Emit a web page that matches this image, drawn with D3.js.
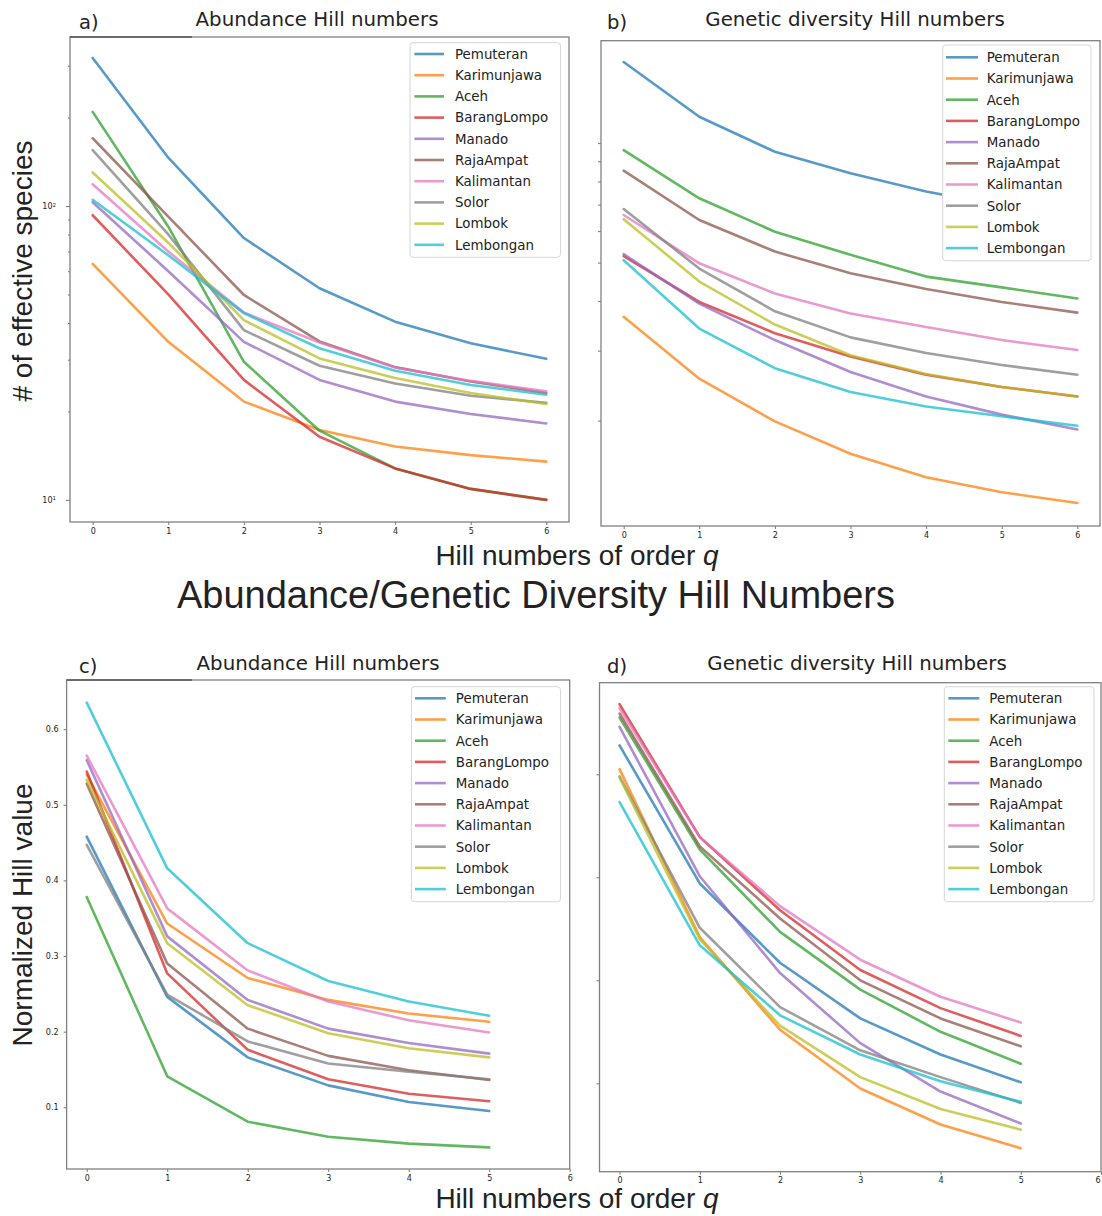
<!DOCTYPE html>
<html>
<head>
<meta charset="utf-8">
<script src="https://cdn.jsdelivr.net/npm/d3@7"></script>
<style>
  body { margin: 0; background: #fff; }
  svg text { fill: #222; }
</style>
</head>
<body>
<svg id="fig" width="1102" height="1216"></svg>
<script>
// ---- data -------------------------------------------------------------
const sites = ["Pemuteran", "Karimunjawa", "Aceh", "BarangLompo", "Manado",
               "RajaAmpat", "Kalimantan", "Solor", "Lombok", "Lembongan"];
const siteColors = ["#1f77b4", "#ff7f0e", "#2ca02c", "#d62728", "#9467bd",
                    "#8c564b", "#e377c2", "#7f7f7f", "#bcbd22", "#17becf"];

const ordersFull = [0, 1, 2, 3, 4, 5, 6];
const ordersShort = [0, 1, 2, 3, 4, 5];
const xTickLabels = ["0", "1", "2", "3", "4", "5", "6"];

// a) effective number of species, abundance-based (rows follow `sites`)
const abundanceHill = [
  [319, 146, 77.8, 52.5, 40.4, 34.1, 30.2],
  [63.5, 34.5, 21.6, 17.3, 15.2, 14.2, 13.5],
  [209, 85, 29.5, 17.2, 12.8, 10.9, 10.0],
  [93, 50, 25.6, 16.4, 12.8, 10.9, 10.0],
  [103, 60, 34.5, 25.6, 21.6, 19.6, 18.2],
  [170, 92, 49.8, 34.6, 28.3, 25.3, 23.1],
  [118.5, 70, 43.4, 34.3, 28.2, 25.4, 23.4],
  [155, 80, 37.8, 28.6, 24.9, 22.6, 21.4],
  [130, 75, 40.9, 30.3, 26.0, 23.1, 21.2],
  [105, 68, 43.2, 32.8, 27.5, 24.6, 22.8]
];

// b) effective numbers, genetic-diversity-based
const geneticHill = [
  [160, 116.5, 95.1, 83.9, 75.5, 69.5, 65.0],
  [36.5, 25.5, 19.9, 16.5, 14.4, 13.2, 12.4],
  [96, 72.6, 59.8, 52.3, 46.1, 43.3, 40.6],
  [51.9, 39.8, 33.2, 29.0, 26.1, 24.3, 23.0],
  [52.5, 39.4, 31.9, 26.5, 23.0, 20.7, 19.0],
  [85.2, 64, 53.3, 47.0, 42.9, 39.8, 37.4],
  [65.9, 49.8, 41.8, 37.2, 34.4, 31.9, 30.1],
  [68.2, 48.3, 37.7, 32.4, 29.6, 27.6, 26.1],
  [64.3, 44.8, 34.9, 29.2, 26.2, 24.3, 23.0],
  [50.7, 34.1, 27.1, 23.6, 21.7, 20.5, 19.4]
];

// c) normalized abundance Hill values
const abundanceNorm = [
  [0.458, 0.246, 0.166, 0.129, 0.107, 0.095],
  [0.540, 0.343, 0.271, 0.242, 0.224, 0.213],
  [0.378, 0.141, 0.081, 0.061, 0.052, 0.047],
  [0.544, 0.277, 0.176, 0.137, 0.118, 0.108],
  [0.559, 0.326, 0.242, 0.204, 0.185, 0.171],
  [0.528, 0.290, 0.204, 0.168, 0.149, 0.136],
  [0.565, 0.363, 0.281, 0.240, 0.215, 0.199],
  [0.447, 0.249, 0.187, 0.158, 0.147, 0.137],
  [0.533, 0.317, 0.235, 0.198, 0.178, 0.166],
  [0.635, 0.416, 0.317, 0.267, 0.240, 0.221]
];

// d) normalized genetic-diversity Hill values
const geneticNorm = [
  [0.628, 0.494, 0.417, 0.363, 0.328, 0.301],
  [0.605, 0.442, 0.352, 0.295, 0.260, 0.237],
  [0.655, 0.527, 0.447, 0.391, 0.350, 0.319],
  [0.668, 0.539, 0.468, 0.410, 0.373, 0.346],
  [0.646, 0.501, 0.407, 0.339, 0.292, 0.261],
  [0.659, 0.530, 0.460, 0.400, 0.363, 0.336],
  [0.664, 0.539, 0.472, 0.420, 0.384, 0.359],
  [0.598, 0.451, 0.374, 0.332, 0.306, 0.281],
  [0.597, 0.440, 0.356, 0.306, 0.275, 0.255],
  [0.573, 0.434, 0.366, 0.328, 0.302, 0.282]
];

const logMajorTicks = [10, 100];
const logMinorTicksA = [20, 30, 40, 50, 60, 70, 80, 90, 200, 300];
const logTicksB = [20, 30, 40, 50, 60, 70, 80, 90, 100];
const normTicksC = [0.1, 0.2, 0.3, 0.4, 0.5, 0.6];
const normTicksD = [0.3, 0.4, 0.5, 0.6];

// ---- layout -----------------------------------------------------------
const svg = d3.select("#fig");
const DEJAVU = "'DejaVu Sans', sans-serif";
const ARIAL = "'Liberation Sans', Arial, sans-serif";

const panels = [
  { id: "a", tag: "a)", title: "Abundance Hill numbers", data: abundanceHill, orders: ordersFull,
    box: { l: 70, r: 569, t: 37, b: 522 }, xDomain: [-0.3, 6.3], log: true, yDomain: [8.41, 375.8],
    tagX: 79, tagY: 29, titleX: 317, titleY: 26,
    legend: { x: 410, y: 42.7, w: 150.5, h: 214.6, hx: 414.4, hl: 29.6, tx: 455, row0: 54 } },
  { id: "b", tag: "b)", title: "Genetic diversity Hill numbers", data: geneticHill, orders: ordersFull,
    box: { l: 601, r: 1100, t: 40.7, b: 526 }, xDomain: [-0.3, 6.3], log: true, yDomain: [10.85, 181.1],
    tagX: 607, tagY: 29, titleX: 855, titleY: 26,
    legend: { x: 942.7, y: 45, w: 148.3, h: 215.7, hx: 946, hl: 32, tx: 986.7, row0: 57.3 } },
  { id: "c", tag: "c)", title: "Abundance Hill numbers", data: abundanceNorm, orders: ordersShort,
    box: { l: 66.6, r: 569.7, t: 680, b: 1169 }, xDomain: [-0.25, 6], log: false, yDomain: [0.0184, 0.665],
    tagX: 79, tagY: 673, titleX: 318, titleY: 670,
    legend: { x: 411.4, y: 686.7, w: 149.1, h: 215, hx: 415, hl: 30.8, tx: 455.8, row0: 698.3 } },
  { id: "d", tag: "d)", title: "Genetic diversity Hill numbers", data: geneticNorm, orders: ordersShort,
    box: { l: 599.5, r: 1101, t: 682.7, b: 1171.7 }, xDomain: [-0.25, 6], log: false, yDomain: [0.2142, 0.6889],
    tagX: 607, tagY: 673, titleX: 857, titleY: 670,
    legend: { x: 944.3, y: 686.7, w: 149.7, h: 215, hx: 948.3, hl: 31, tx: 989.3, row0: 698.3 } }
];

function addText(parent, x, y, str, opts) {
  const o = Object.assign({ size: 12, family: DEJAVU, anchor: "start" }, opts);
  return parent.append("text")
    .attr("x", x).attr("y", y)
    .attr("text-anchor", o.anchor)
    .style("font-family", o.family)
    .style("font-size", o.size + "px")
    .text(str);
}

function styleAxis(g) {
  g.select(".domain").remove();
  g.selectAll(".tick line").attr("stroke", "#555").attr("stroke-width", 0.8);
  g.selectAll(".tick text")
    .style("font-family", DEJAVU).style("font-size", "8px").attr("fill", "#444");
}

panels.forEach(p => {
  const g = svg.append("g").attr("class", "panel-" + p.id);
  const { l, r, t, b } = p.box;

  const x = d3.scaleLinear().domain(p.xDomain).range([l, r]);
  const y = (p.log ? d3.scaleLog() : d3.scaleLinear()).domain(p.yDomain).range([b, t]);

  // clip region for the series
  g.append("clipPath").attr("id", "clip-" + p.id)
    .append("rect").attr("x", l).attr("y", t).attr("width", r - l).attr("height", b - t);

  // series lines
  const line = d3.line().x((d, i) => x(p.orders[i])).y(d => y(d));
  g.append("g").attr("clip-path", `url(#clip-${p.id})`)
    .selectAll("path").data(p.data).join("path")
    .attr("d", d => line(d))
    .attr("fill", "none")
    .attr("stroke", (d, i) => siteColors[i])
    .attr("stroke-width", 2.6)
    .attr("stroke-opacity", 0.75)
    .attr("stroke-linejoin", "round")
    .attr("stroke-linecap", "round");

  // x axis
  const xAxis = g.append("g").attr("transform", `translate(0,${b})`)
    .call(d3.axisBottom(x).tickValues(ordersFull).tickSize(3).tickPadding(3)
      .tickFormat(d => xTickLabels[d]));
  styleAxis(xAxis);
  // keep the last label inside the page when the axis ends at the right border
  if (x(6) > 1095) xAxis.selectAll(".tick text").filter(d => d === 6)
    .attr("text-anchor", "end").attr("dx", "-1");

  // y axis
  if (p.id === "a") {
    const yMinor = g.append("g").attr("transform", `translate(${l},0)`)
      .call(d3.axisLeft(y).tickValues(logMinorTicksA).tickSize(2).tickFormat(() => ""));
    styleAxis(yMinor);
    const yMajor = g.append("g").attr("transform", `translate(${l},0)`)
      .call(d3.axisLeft(y).tickValues(logMajorTicks).tickSize(4).tickPadding(10).tickFormat(() => ""));
    styleAxis(yMajor);
    yMajor.selectAll(".tick text").each(function (d) {
      const s = d3.select(this).attr("dy", "0.32em");
      s.append("tspan").text("10");
      s.append("tspan").attr("dy", "-0.45em").style("font-size", "5.5px").text(String(Math.round(Math.log10(d))));
    });
  } else if (p.id === "b") {
    const yAx = g.append("g").attr("transform", `translate(${l},0)`)
      .call(d3.axisLeft(y).tickValues(logTicksB).tickSize(3).tickFormat(() => ""));
    styleAxis(yAx);
  } else if (p.id === "c") {
    const yAx = g.append("g").attr("transform", `translate(${l},0)`)
      .call(d3.axisLeft(y).tickValues(normTicksC).tickSize(3).tickPadding(5).tickFormat(d3.format(".1f")));
    styleAxis(yAx);
  } else {
    const yAx = g.append("g").attr("transform", `translate(${l},0)`)
      .call(d3.axisLeft(y).tickValues(normTicksD).tickSize(3).tickFormat(() => ""));
    styleAxis(yAx);
  }

  // frame
  g.append("rect").attr("x", l).attr("y", t).attr("width", r - l).attr("height", b - t)
    .attr("fill", "none").attr("stroke", "#808080").attr("stroke-width", 1.3);
  if (p.id === "a" || p.id === "c") {
    g.append("line").attr("x1", l).attr("x2", 192).attr("y1", t).attr("y2", t)
      .attr("stroke", "#555").attr("stroke-width", 1.5);
  }

  // legend
  const L = p.legend;
  const lg = g.append("g");
  lg.append("rect").attr("x", L.x).attr("y", L.y).attr("width", L.w).attr("height", L.h)
    .attr("rx", 3).attr("fill", "#fff").attr("fill-opacity", 1)
    .attr("stroke", "#d6d6d6").attr("stroke-width", 1);
  sites.forEach((name, i) => {
    const ry = L.row0 + i * 21.2;
    lg.append("line").attr("x1", L.hx).attr("x2", L.hx + L.hl).attr("y1", ry).attr("y2", ry)
      .attr("stroke", siteColors[i]).attr("stroke-width", 2.6).attr("stroke-opacity", 0.75);
    addText(lg, L.tx, ry + 4.8, name, { size: 13.4 });
  });

  // titles
  addText(g, p.tagX, p.tagY, p.tag, { size: 19.5 });
  addText(g, p.titleX, p.titleY, p.title, { size: 19.8, anchor: "middle" });
});

// ---- shared labels ------------------------------------------------------
function xLabel(cx, baseline) {
  const tx = svg.append("text").attr("x", cx).attr("y", baseline)
    .attr("text-anchor", "middle")
    .style("font-family", ARIAL).style("font-size", "28px");
  tx.append("tspan").text("Hill numbers of order ");
  tx.append("tspan").style("font-style", "italic").text("q");
}
xLabel(577, 565);
xLabel(577, 1208);

svg.append("text").attr("x", 536).attr("y", 608).attr("text-anchor", "middle")
  .style("font-family", ARIAL).style("font-size", "38px")
  .text("Abundance/Genetic Diversity Hill Numbers");

svg.append("text").attr("transform", "translate(32,271) rotate(-90)").attr("text-anchor", "middle")
  .style("font-family", ARIAL).style("font-size", "28px")
  .text("# of effective species");

svg.append("text").attr("transform", "translate(32,915) rotate(-90)").attr("text-anchor", "middle")
  .style("font-family", ARIAL).style("font-size", "28px")
  .text("Normalized Hill value");
</script>
</body>
</html>
